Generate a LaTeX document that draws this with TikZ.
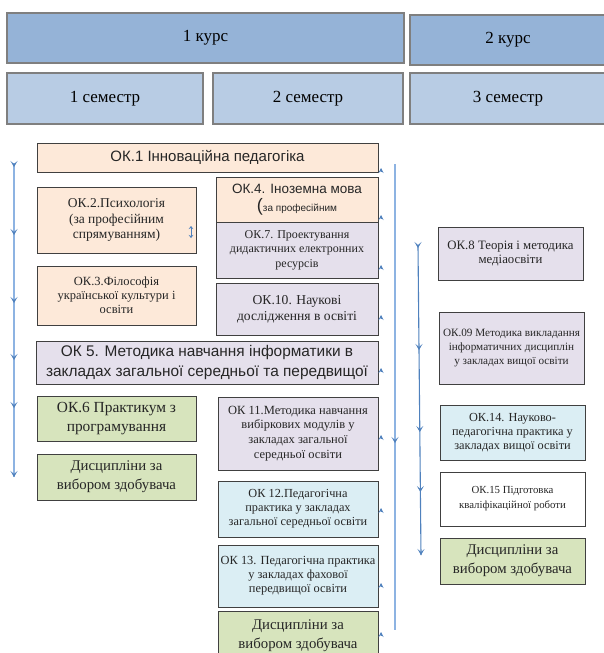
\documentclass[tikz,border=0pt]{standalone}
\usepackage{fontspec}
\setmainfont{Liberation Serif}
\newfontfamily\arialf{Liberation Sans}
\usetikzlibrary{arrows.meta}
\definecolor{hdrdark}{HTML}{95B3D7}
\definecolor{hdrlight}{HTML}{B8CCE4}
\definecolor{hdrborder}{HTML}{7F7F7F}
\definecolor{peach}{HTML}{FDE9D9}
\definecolor{lav}{HTML}{E5E0EC}
\definecolor{grn}{HTML}{D7E4BD}
\definecolor{lblue}{HTML}{DBEEF4}
\definecolor{boxline}{HTML}{404040}
\definecolor{txt}{HTML}{262626}
\definecolor{arrdark}{HTML}{4F81BD}
\definecolor{arrlight}{HTML}{8DB3E2}
\newcommand{\bx}[7]{\node[#6, minimum width={(#4-#2)*1pt}, minimum height={(#5-#3)*1pt}] (#1) at ({(#2+#4)/2},{(#3+#5)/2}) {#7};}
\newcommand{\fs}[2]{\fontsize{#1}{#2}\selectfont}
\tikzset{
  hdr/.style={draw=hdrborder, line width=1.6pt, inner sep=0pt, outer sep=0pt, align=center, font=\fs{17}{20}, text=black},
  box/.style={draw=boxline, line width=0.9pt, inner sep=0pt, outer sep=0pt, align=center, text=txt},
  flow/.style={line width=1.1pt},
  tipd/.style={arrdark, line width=0.8pt, -{Stealth[length=6pt,width=7pt,inset=3pt]}},
  tipu/.style={arrdark, line width=0.6pt, -{Stealth[length=5pt,width=5pt,inset=2pt]}},
}
\begin{document}
\begin{tikzpicture}[x=1pt,y=-1pt]
\useasboundingbox (0,0) rectangle (604,653);
% header
\bx{h1}{7}{13}{404}{63}{hdr, fill=hdrdark}{1 курс}
\bx{h2}{410}{15}{606}{65}{hdr, fill=hdrdark}{2 курс}
\bx{s1}{7}{73}{203}{124}{hdr, fill=hdrlight}{1 семестр}
\bx{s2}{213}{73}{403}{124}{hdr, fill=hdrlight}{2 семестр}
\bx{s3}{410}{73}{606}{124}{hdr, fill=hdrlight}{3 семестр}
% left / middle column boxes
\bx{ok1}{37}{143}{378}{172}{box, fill=peach, font=\arialf\fs{15}{18}}{ОК.1 Інноваційна педагогіка}
\bx{ok2}{37}{187}{196}{253}{box, fill=peach, font=\fs{13.5}{15.5}}{ОК.2.Психологія\\(за професійним\\спрямуванням)}
\bx{ok3}{37}{266}{196}{325}{box, fill=peach, font=\fs{12.5}{14}}{ОК.3.Філософія\\української культури і\\освіти}
\bx{ok4}{216}{177}{378}{222}{box, fill=peach, font=\arialf\fs{13.5}{18}}{ОК.4. Іноземна мова\\{\fs{18}{18}(}{\fs{10}{12}за професійним}}
\bx{ok7}{216}{222}{378}{278}{box, fill=lav, font=\fs{12}{14.5}}{ОК.7. Проектування\\дидактичних електронних\\ресурсів}
\bx{ok10}{216}{283}{378}{335}{box, fill=lav, font=\fs{13.6}{16}}{ОК.10. Наукові\\дослідження в освіті}
\bx{ok5}{36}{341}{378}{384}{box, fill=lav, font=\arialf\fs{15.4}{20}}{ОК 5. Методика навчання інформатики в\\закладах загальної середньої та передвищої}
\bx{ok6}{37}{396}{196}{441}{box, fill=grn, font=\fs{15.4}{19}}{ОК.6 Практикум з\\програмування}
\bx{dl}{37}{454}{196}{500}{box, fill=grn, font=\fs{14.8}{19}}{Дисципліни за\\вибором здобувача}
\bx{ok11}{218}{397}{378}{470}{box, fill=lav, font=\fs{12.5}{14.7}}{ОК 11.Методика навчання\\вибіркових модулів у\\закладах загальної\\середньої освіти}
\bx{ok12}{218}{481}{378}{537}{box, fill=lblue, font=\fs{12.3}{14}}{ОК 12.Педагогічна\\практика у закладах\\загальної середньої освіти}
\bx{ok13}{218}{545}{378}{607}{box, fill=lblue, font=\fs{12.4}{14.2}}{ОК 13. Педагогічна практика\\у закладах фахової\\передвищої освіти}
\bx{dm}{218}{611}{378}{660}{box, fill=grn, font=\fs{14.8}{19}}{Дисципліни за\\вибором здобувача}
% right column boxes
\bx{ok8}{438}{227}{583}{280}{box, fill=lav, font=\fs{12.8}{14.5}}{ОК.8 Теорія і методика\\медіаосвіти}
\bx{ok9}{439}{312}{584}{384}{box, fill=lav, font=\fs{11.2}{13.8}}{ОК.09 Методика викладання\\інформатичних дисциплін\\у закладах вищої освіти}
\bx{ok14}{440}{405}{585}{460}{box, fill=lblue, font=\fs{12.3}{14.2}}{ОК.14. Науково-\\педагогічна практика у\\закладах вищої освіти}
\bx{ok15}{440}{472}{585}{526}{box, fill=white, font=\fs{10.8}{15}}{ОК.15 Підготовка\\кваліфікаційної роботи}
\bx{dr}{440}{538}{585}{584}{box, fill=grn, font=\fs{14.8}{19}}{Дисципліни за\\вибором здобувача}
% left flow line
\coordinate (lt) at (14,163);
\coordinate (lb) at (14,477);
\draw[flow, arrlight] (lt) -- (lb);
\foreach \yy in {167,235,303,360,408,477} \draw[tipd] (14,\yy-3) -- (14,\yy);
% middle flow line
\coordinate (mt) at (395,164);
\coordinate (mb) at (395,630);
\draw[flow, arrlight] (mt) -- (mb);
\draw[tipd] (395,440) -- (395,443);
% right flow line
\coordinate (rt) at (418,246);
\coordinate (rb) at (421,555);
\draw[flow, arrdark] (rt) -- (rb);
\foreach \yy in {248,350,432,492,555} \draw[tipd] ({418+3*(\yy-248)/307},\yy-3) -- ({418+3*(\yy-248)/307},\yy);
% small tips at middle column
\foreach \yy in {168,215,265,315,368,435,508,583,632} \draw[tipu] (381,\yy+3) -- (381,\yy);
% small mark
\draw[arrdark, line width=0.7pt, {Stealth[length=3pt,width=4.5pt]}-{Stealth[length=3pt,width=4.5pt]}] (191,226) -- (191,238);
\end{tikzpicture}
\end{document}
